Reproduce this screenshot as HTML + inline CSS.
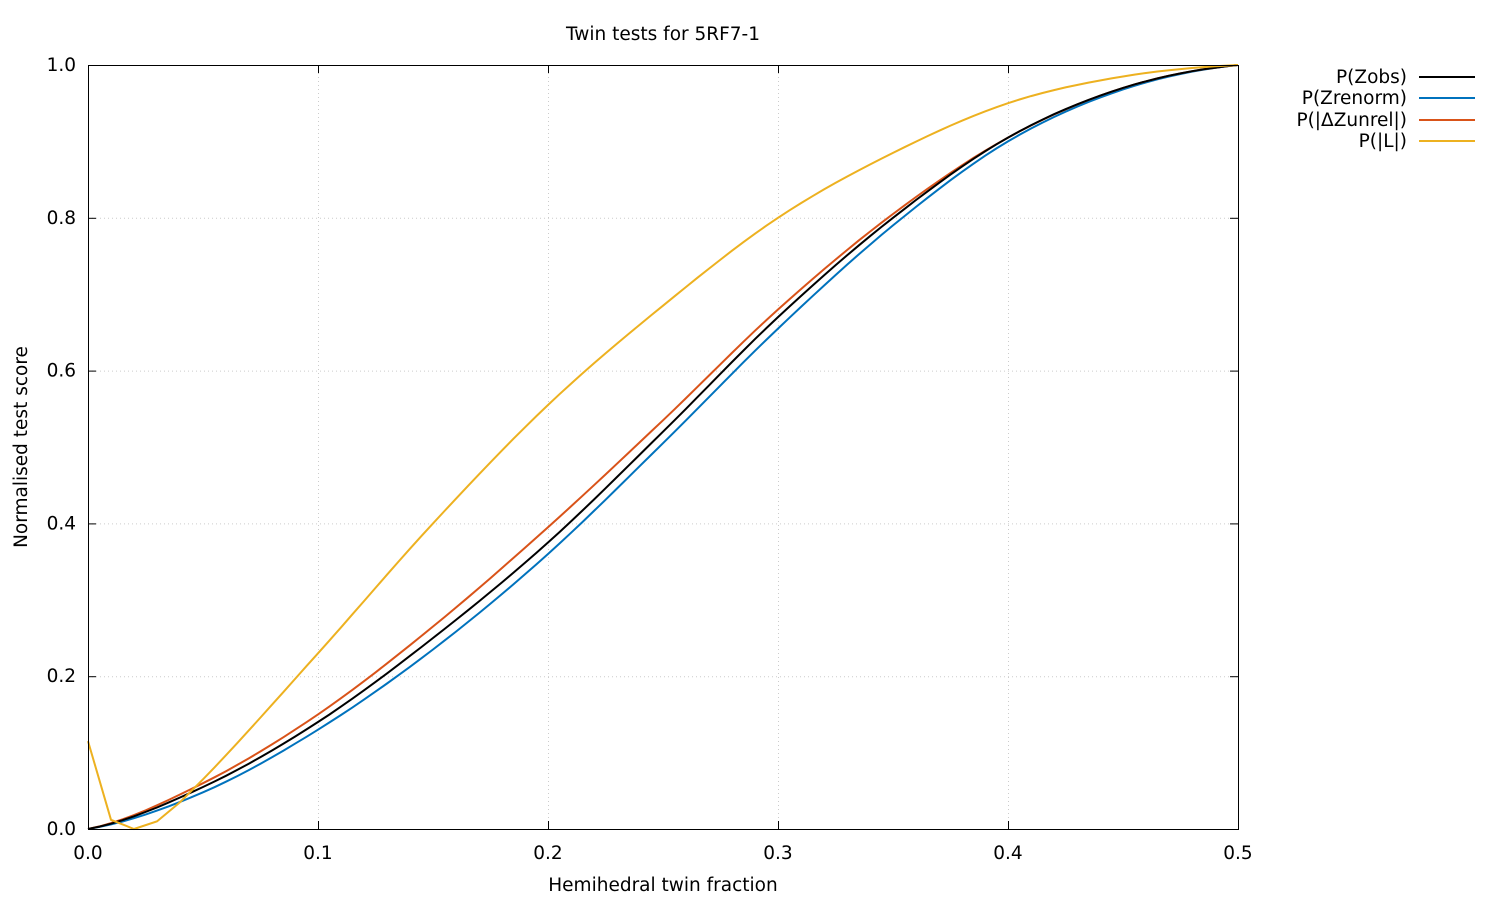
<!DOCTYPE html>
<html><head><meta charset="utf-8"><style>
body{margin:0;background:#fff}
svg text{font-family:"DejaVu Sans",sans-serif;font-size:18.5px;fill:#000}
</style></head><body>
<svg id="s" width="1500" height="900" xmlns="http://www.w3.org/2000/svg">
<rect width="1500" height="900" fill="#fff"/>
<g id="grid" stroke="#ccc" stroke-width="1" stroke-dasharray="1,3"></g>
<g id="ticks" stroke="#000" stroke-width="1"></g>
<g id="labels"></g>
<g id="curves" fill="none" stroke-width="2"></g>
<rect x="88.5" y="65.5" width="1150" height="764" fill="none" stroke="#000"/>
<text x="663" y="40" text-anchor="middle">Twin tests for 5RF7-1</text>
<text x="663" y="891" text-anchor="middle">Hemihedral twin fraction</text>
<text transform="translate(27,447) rotate(-90)" text-anchor="middle">Normalised test score</text>
<g text-anchor="end">
<text x="1407" y="83">P(Zobs)</text>
<text x="1407" y="104">P(Zrenorm)</text>
<text x="1407" y="126">P(|ΔZunrel|)</text>
<text x="1407" y="147">P(|L|)</text>
</g>
<line x1="1419" y1="77" x2="1475" y2="77" stroke="#000" stroke-width="2"/>
<line x1="1419" y1="98" x2="1475" y2="98" stroke="#0072bd" stroke-width="2"/>
<line x1="1419" y1="120" x2="1475" y2="120" stroke="#d95319" stroke-width="2"/>
<line x1="1419" y1="141" x2="1475" y2="141" stroke="#edb120" stroke-width="2"/>
</svg>
<script>
const NS="http://www.w3.org/2000/svg";
const X=v=>88+v*2300, Y=v=>829-v*764;
function el(p,t,a,txt){const e=document.createElementNS(NS,t);for(const k in a)e.setAttribute(k,a[k]);if(txt!==undefined)e.textContent=txt;document.getElementById(p).appendChild(e);}
for(let i=0;i<=5;i++){const x=X(i*0.1)+0.5,y=Y(i*0.2)+0.5;
 if(i>0&&i<5){el("grid","line",{x1:x,y1:65,x2:x,y2:829});el("grid","line",{x1:88,y1:y,x2:1238,y2:y});}
 el("ticks","line",{x1:x,y1:829,x2:x,y2:821});el("ticks","line",{x1:x,y1:65,x2:x,y2:73});
 el("ticks","line",{x1:88,y1:y,x2:96,y2:y});el("ticks","line",{x1:1238,y1:y,x2:1230,y2:y});
 el("labels","text",{x:X(i*0.1),y:859,"text-anchor":"middle"},(i*0.1).toFixed(1));
 el("labels","text",{x:76,y:Y(i*0.2)+6,"text-anchor":"end"},(i*0.2).toFixed(1));}
function cr(xs,ys,p0x){let pts=[];for(let i=0;i<xs.length-1;i++){const p0=(i==0&&p0x!==undefined)?p0x:ys[Math.max(i-1,0)],p1=ys[i],p2=ys[i+1],p3=ys[Math.min(i+2,ys.length-1)];
 for(let t=0;t<1;t+=0.1){const t2=t*t,t3=t2*t;const v=0.5*(2*p1+(-p0+p2)*t+(2*p0-5*p1+4*p2-p3)*t2+(-p0+3*p1-3*p2+p3)*t3);
 pts.push(X(xs[i]+(xs[i+1]-xs[i])*t).toFixed(1)+","+Y(v).toFixed(1));}}
 pts.push(X(xs[xs.length-1])+","+Y(ys[ys.length-1]));return pts.join(" ");}
const xs=[0,.05,.1,.15,.2,.25,.3,.35,.4,.45,.5];
el("curves","polyline",{points:cr(xs,[0,.048,.13,.235,.36,.505,.655,.79,.90,.968,1]),stroke:"#0072bd"});
el("curves","polyline",{points:cr(xs,[0,.06,.15,.265,.395,.535,.68,.805,.905,.97,1]),stroke:"#d95319"});
el("curves","polyline",{points:cr(xs,[0,.055,.14,.25,.375,.52,.67,.80,.905,.97,1]),stroke:"#000"});
let yl=X(0)+","+Y(.115)+" "+X(.01)+","+Y(.012)+" "+X(.02)+","+Y(0)+" "+X(.03)+","+Y(.01)+" "+X(.04)+","+Y(.035)+" ";
const yx=[.05,.1,.15,.2,.25,.3,.35,.4,.45,.5],yy=[.065,.23,.4,.555,.685,.8,.885,.95,.985,1];
el("curves","polyline",{points:yl+cr(yx,yy,-0.08),stroke:"#edb120"});
</script>
</body></html>
